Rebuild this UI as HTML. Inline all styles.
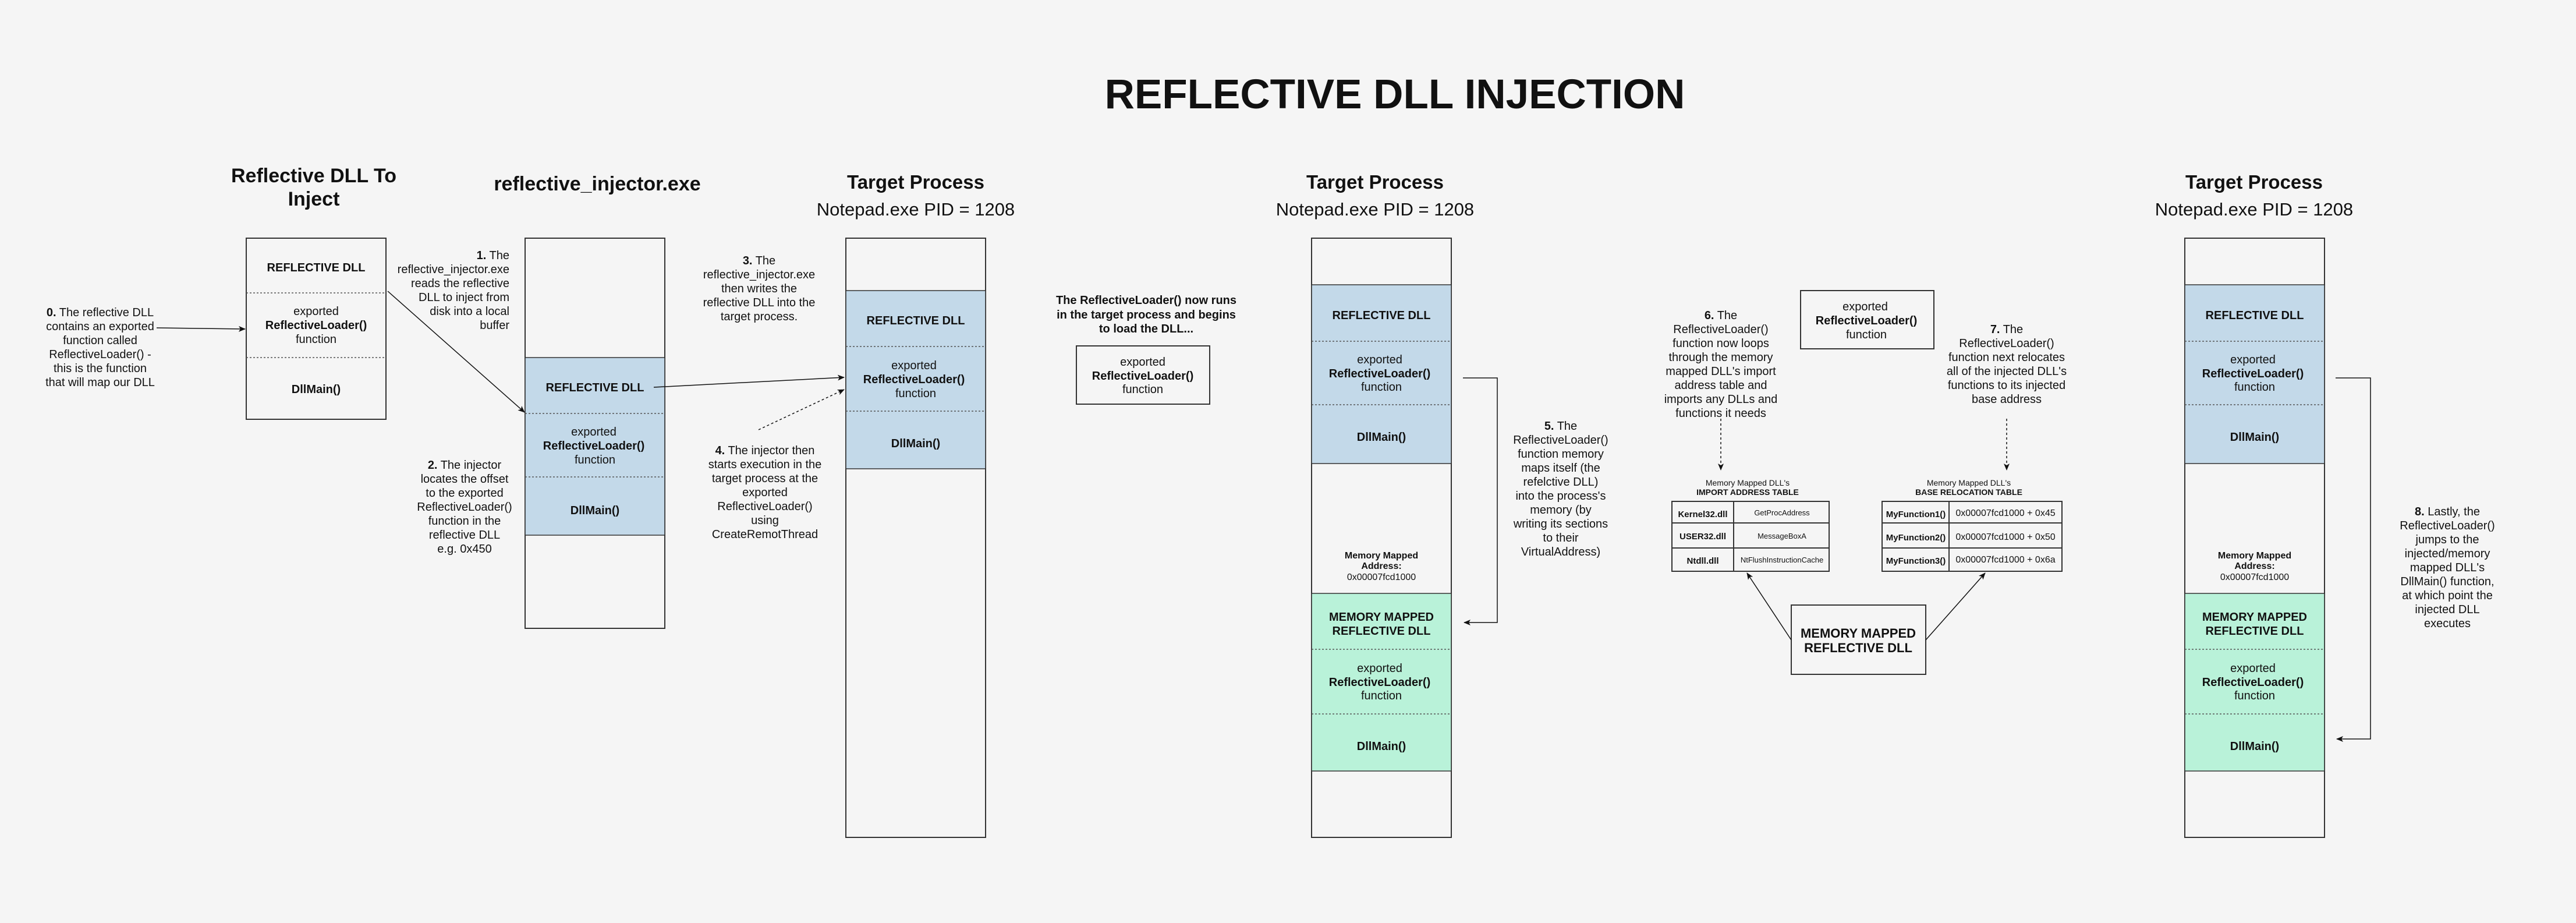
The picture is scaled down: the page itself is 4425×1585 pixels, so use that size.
<!DOCTYPE html>
<html><head><meta charset="utf-8"><style>
html,body{margin:0;padding:0;background:#f5f5f5}
svg{display:block}
text{font-family:"Liberation Sans",Arial,sans-serif;fill:#111}
.b{font-weight:bold}
</style></head><body>
<svg width="4425" height="1585" viewBox="0 0 4425 1585" xmlns="http://www.w3.org/2000/svg">
<defs>
<marker id="ar" markerWidth="12" markerHeight="10" refX="11" refY="5" orient="auto" markerUnits="userSpaceOnUse"><path d="M0,0 L12,5 L0,10 L3,5 z" fill="#111"/></marker>
</defs>
<rect width="4425" height="1585" fill="#f5f5f5"/>
<text x="2396" y="186" text-anchor="middle" class="b" font-size="71">REFLECTIVE DLL INJECTION</text>

<g text-anchor="middle" class="b" font-size="34">
<text x="539" y="313">Reflective DLL To</text>
<text x="539" y="353">Inject</text>
<text x="1026" y="327">reflective_injector.exe</text>
<text x="1573" y="324" font-size="33">Target Process</text>
<text x="2362" y="324" font-size="33">Target Process</text>
<text x="3872" y="324" font-size="33">Target Process</text>
</g>
<g text-anchor="middle" font-size="31">
<text x="1573" y="370">Notepad.exe PID = 1208</text>
<text x="2362" y="370">Notepad.exe PID = 1208</text>
<text x="3872" y="370">Notepad.exe PID = 1208</text>
</g>

<rect x="423" y="409" width="240" height="311" fill="#f5f5f5" stroke="#333" stroke-width="2"/>
<line x1="423" y1="503" x2="663" y2="503" stroke="#555" stroke-width="1.5" stroke-dasharray="3,3"/>
<line x1="423" y1="614" x2="663" y2="614" stroke="#555" stroke-width="1.5" stroke-dasharray="3,3"/>
<g text-anchor="middle" font-size="20">
<text x="543" y="466" class="b">REFLECTIVE DLL</text>
<text x="543" y="541">exported</text>
<text x="543" y="565" class="b">ReflectiveLoader()</text>
<text x="543" y="589">function</text>
<text x="543" y="675" class="b">DllMain()</text>
</g>
<g text-anchor="middle" font-size="20">
<text x="172" y="543"><tspan class="b">0.</tspan> The reflective DLL</text>
<text x="172" y="567">contains an exported</text>
<text x="172" y="591">function called</text>
<text x="172" y="615">ReflectiveLoader() -</text>
<text x="172" y="639">this is the function</text>
<text x="172" y="663">that will map our DLL</text>
</g>
<line x1="269" y1="563" x2="421" y2="565" stroke="#111" stroke-width="1.5" marker-end="url(#ar)"/>

<rect x="902" y="409" width="240" height="670" fill="#f5f5f5" stroke="#333" stroke-width="2"/>
<rect x="902" y="614" width="240" height="305" fill="#c3d9e9" stroke="#333" stroke-width="1.5"/>
<line x1="902" y1="710" x2="1142" y2="710" stroke="#555" stroke-width="1.5" stroke-dasharray="3,3"/>
<line x1="902" y1="819" x2="1142" y2="819" stroke="#555" stroke-width="1.5" stroke-dasharray="3,3"/>
<g text-anchor="middle" font-size="20">
<text x="1022" y="672" class="b">REFLECTIVE DLL</text>
<text x="1020" y="748">exported</text>
<text x="1020" y="772" class="b">ReflectiveLoader()</text>
<text x="1022" y="796">function</text>
<text x="1022" y="883" class="b">DllMain()</text>
</g>
<g text-anchor="end" font-size="20">
<text x="875" y="445"><tspan class="b">1.</tspan> The</text>
<text x="875" y="469">reflective_injector.exe</text>
<text x="875" y="493">reads the reflective</text>
<text x="875" y="517">DLL to inject from</text>
<text x="875" y="541">disk into a local</text>
<text x="875" y="565">buffer</text>
</g>
<line x1="666" y1="500" x2="901" y2="708" stroke="#111" stroke-width="1.5" marker-end="url(#ar)"/>
<g text-anchor="middle" font-size="20">
<text x="798" y="805"><tspan class="b">2.</tspan> The injector</text>
<text x="798" y="829">locates the offset</text>
<text x="798" y="853">to the exported</text>
<text x="798" y="877">ReflectiveLoader()</text>
<text x="798" y="901">function in the</text>
<text x="798" y="925">reflective DLL</text>
<text x="798" y="949">e.g. 0x450</text>
</g>

<rect x="1453" y="409" width="240" height="1029" fill="#f5f5f5" stroke="#333" stroke-width="2"/>
<rect x="1453" y="499" width="240" height="306" fill="#c3d9e9" stroke="#333" stroke-width="1.5"/>
<line x1="1453" y1="595" x2="1693" y2="595" stroke="#555" stroke-width="1.5" stroke-dasharray="3,3"/>
<line x1="1453" y1="706" x2="1693" y2="706" stroke="#555" stroke-width="1.5" stroke-dasharray="3,3"/>
<g text-anchor="middle" font-size="20">
<text x="1573" y="557" class="b">REFLECTIVE DLL</text>
<text x="1570" y="634">exported</text>
<text x="1570" y="658" class="b">ReflectiveLoader()</text>
<text x="1573" y="682">function</text>
<text x="1573" y="768" class="b">DllMain()</text>
</g>
<g text-anchor="middle" font-size="20">
<text x="1304" y="454"><tspan class="b">3.</tspan> The</text>
<text x="1304" y="478">reflective_injector.exe</text>
<text x="1304" y="502">then writes the</text>
<text x="1304" y="526">reflective DLL into the</text>
<text x="1304" y="550">target process.</text>
</g>
<line x1="1123" y1="665" x2="1450" y2="648" stroke="#111" stroke-width="1.5" marker-end="url(#ar)"/>
<line x1="1303" y1="738" x2="1450" y2="669" stroke="#111" stroke-width="1.5" stroke-dasharray="4,4" marker-end="url(#ar)"/>
<g text-anchor="middle" font-size="20">
<text x="1314" y="780"><tspan class="b">4.</tspan> The injector then</text>
<text x="1314" y="804">starts execution in the</text>
<text x="1314" y="828">target process at the</text>
<text x="1314" y="852">exported</text>
<text x="1314" y="876">ReflectiveLoader()</text>
<text x="1314" y="900">using</text>
<text x="1314" y="924">CreateRemotThread</text>
</g>

<g text-anchor="middle" font-size="20" class="b">
<text x="1969" y="522">The ReflectiveLoader() now runs</text>
<text x="1969" y="547">in the target process and begins</text>
<text x="1969" y="571">to load the DLL...</text>
</g>
<rect x="1849" y="594" width="229" height="100" fill="#f5f5f5" stroke="#333" stroke-width="2"/>
<g text-anchor="middle" font-size="20">
<text x="1963" y="628">exported</text>
<text x="1963" y="652" class="b">ReflectiveLoader()</text>
<text x="1963" y="675">function</text>
</g>

<g id="tp">
<rect x="2253" y="409" width="240" height="1029" fill="#f5f5f5" stroke="#333" stroke-width="2"/>
<rect x="2253" y="489" width="240" height="307" fill="#c3d9e9" stroke="#333" stroke-width="1.5"/>
<rect x="2253" y="1019" width="240" height="305" fill="#b9f2d9" stroke="#333" stroke-width="1.5"/>
<line x1="2253" y1="586" x2="2493" y2="586" stroke="#555" stroke-width="1.5" stroke-dasharray="3,3"/>
<line x1="2253" y1="695" x2="2493" y2="695" stroke="#555" stroke-width="1.5" stroke-dasharray="3,3"/>
<line x1="2253" y1="1115" x2="2493" y2="1115" stroke="#555" stroke-width="1.5" stroke-dasharray="3,3"/>
<line x1="2253" y1="1226" x2="2493" y2="1226" stroke="#555" stroke-width="1.5" stroke-dasharray="3,3"/>
<g text-anchor="middle" font-size="20">
<text x="2373" y="548" class="b">REFLECTIVE DLL</text>
<text x="2370" y="624">exported</text>
<text x="2370" y="648" class="b">ReflectiveLoader()</text>
<text x="2373" y="671">function</text>
<text x="2373" y="757" class="b">DllMain()</text>
<text x="2373" y="959" class="b" font-size="16">Memory Mapped</text>
<text x="2373" y="977" class="b" font-size="16">Address:</text>
<text x="2373" y="996" font-size="16">0x00007fcd1000</text>
<text x="2373" y="1066" class="b">MEMORY MAPPED</text>
<text x="2373" y="1090" class="b">REFLECTIVE DLL</text>
<text x="2370" y="1154">exported</text>
<text x="2370" y="1178" class="b">ReflectiveLoader()</text>
<text x="2373" y="1201">function</text>
<text x="2373" y="1288" class="b">DllMain()</text>
</g>
</g>
<use href="#tp" x="1500" y="0"/>

<polyline points="2513,649 2572,649 2572,1069 2515,1069" fill="none" stroke="#111" stroke-width="1.5" marker-end="url(#ar)"/>
<g text-anchor="middle" font-size="20">
<text x="2681" y="738"><tspan class="b">5.</tspan> The</text>
<text x="2681" y="762">ReflectiveLoader()</text>
<text x="2681" y="786">function memory</text>
<text x="2681" y="810">maps itself (the</text>
<text x="2681" y="834">refelctive DLL)</text>
<text x="2681" y="858">into the process's</text>
<text x="2681" y="882">memory (by</text>
<text x="2681" y="906">writing its sections</text>
<text x="2681" y="930">to their</text>
<text x="2681" y="954">VirtualAddress)</text>
</g>

<polyline points="4012,649 4072,649 4072,1269 4014,1269" fill="none" stroke="#111" stroke-width="1.5" marker-end="url(#ar)"/>
<g text-anchor="middle" font-size="20">
<text x="4204" y="885"><tspan class="b">8.</tspan> Lastly, the</text>
<text x="4204" y="909">ReflectiveLoader()</text>
<text x="4204" y="933">jumps to the</text>
<text x="4204" y="957">injected/memory</text>
<text x="4204" y="981">mapped DLL's</text>
<text x="4204" y="1005">DllMain() function,</text>
<text x="4204" y="1029">at which point the</text>
<text x="4204" y="1053">injected DLL</text>
<text x="4204" y="1077">executes</text>
</g>

<rect x="3093" y="499" width="229" height="100" fill="#f5f5f5" stroke="#333" stroke-width="2"/>
<g text-anchor="middle" font-size="20">
<text x="3204" y="533">exported</text>
<text x="3206" y="557" class="b">ReflectiveLoader()</text>
<text x="3206" y="581">function</text>
</g>
<g text-anchor="middle" font-size="20">
<text x="2956" y="548"><tspan class="b">6.</tspan> The</text>
<text x="2956" y="572">ReflectiveLoader()</text>
<text x="2956" y="596">function now loops</text>
<text x="2956" y="620">through the memory</text>
<text x="2956" y="644">mapped DLL's import</text>
<text x="2956" y="668">address table and</text>
<text x="2956" y="692">imports any DLLs and</text>
<text x="2956" y="716">functions it needs</text>
</g>
<g text-anchor="middle" font-size="20">
<text x="3447" y="572"><tspan class="b">7.</tspan> The</text>
<text x="3447" y="596">ReflectiveLoader()</text>
<text x="3447" y="620">function next relocates</text>
<text x="3447" y="644">all of the injected DLL's</text>
<text x="3447" y="668">functions to its injected</text>
<text x="3447" y="692">base address</text>
</g>
<line x1="2956" y1="719" x2="2956" y2="807" stroke="#111" stroke-width="1.5" stroke-dasharray="4,4" marker-end="url(#ar)"/>
<line x1="3447" y1="719" x2="3447" y2="807" stroke="#111" stroke-width="1.5" stroke-dasharray="4,4" marker-end="url(#ar)"/>

<g text-anchor="middle" font-size="14">
<text x="3002" y="834">Memory Mapped DLL's</text>
<text x="3002" y="850" class="b">IMPORT ADDRESS TABLE</text>
<text x="3382" y="834">Memory Mapped DLL's</text>
<text x="3382" y="850" class="b">BASE RELOCATION TABLE</text>
</g>
<g fill="none" stroke="#333" stroke-width="2">
<rect x="2872" y="861" width="270" height="120"/>
<line x1="2978" y1="861" x2="2978" y2="981"/>
<line x1="2872" y1="898" x2="3142" y2="898"/>
<line x1="2872" y1="941" x2="3142" y2="941"/>
<rect x="3233" y="861" width="309" height="120"/>
<line x1="3348" y1="861" x2="3348" y2="981"/>
<line x1="3233" y1="898" x2="3542" y2="898"/>
<line x1="3233" y1="941" x2="3542" y2="941"/>
</g>
<g text-anchor="middle" font-size="15">
<text x="2925" y="888" class="b">Kernel32.dll</text>
<text x="2925" y="926" class="b">USER32.dll</text>
<text x="2925" y="968" class="b">Ntdll.dll</text>
<text x="3061" y="885" font-size="13">GetProcAddress</text>
<text x="3061" y="925" font-size="13">MessageBoxA</text>
<text x="3061" y="966" font-size="13">NtFlushInstructionCache</text>
<text x="3291" y="888" class="b">MyFunction1()</text>
<text x="3291" y="928" class="b">MyFunction2()</text>
<text x="3291" y="968" class="b">MyFunction3()</text>
<text x="3445" y="886" font-size="16">0x00007fcd1000 + 0x45</text>
<text x="3445" y="927" font-size="16">0x00007fcd1000 + 0x50</text>
<text x="3445" y="966" font-size="16">0x00007fcd1000 + 0x6a</text>
</g>
<rect x="3077" y="1039" width="231" height="119" fill="#f5f5f5" stroke="#333" stroke-width="2"/>
<g text-anchor="middle" font-size="22" class="b">
<text x="3192" y="1095">MEMORY MAPPED</text>
<text x="3192" y="1120">REFLECTIVE DLL</text>
</g>
<line x1="3077" y1="1099" x2="3001" y2="984" stroke="#111" stroke-width="1.5" marker-end="url(#ar)"/>
<line x1="3308" y1="1099" x2="3410" y2="984" stroke="#111" stroke-width="1.5" marker-end="url(#ar)"/>
</svg>
</body></html>
